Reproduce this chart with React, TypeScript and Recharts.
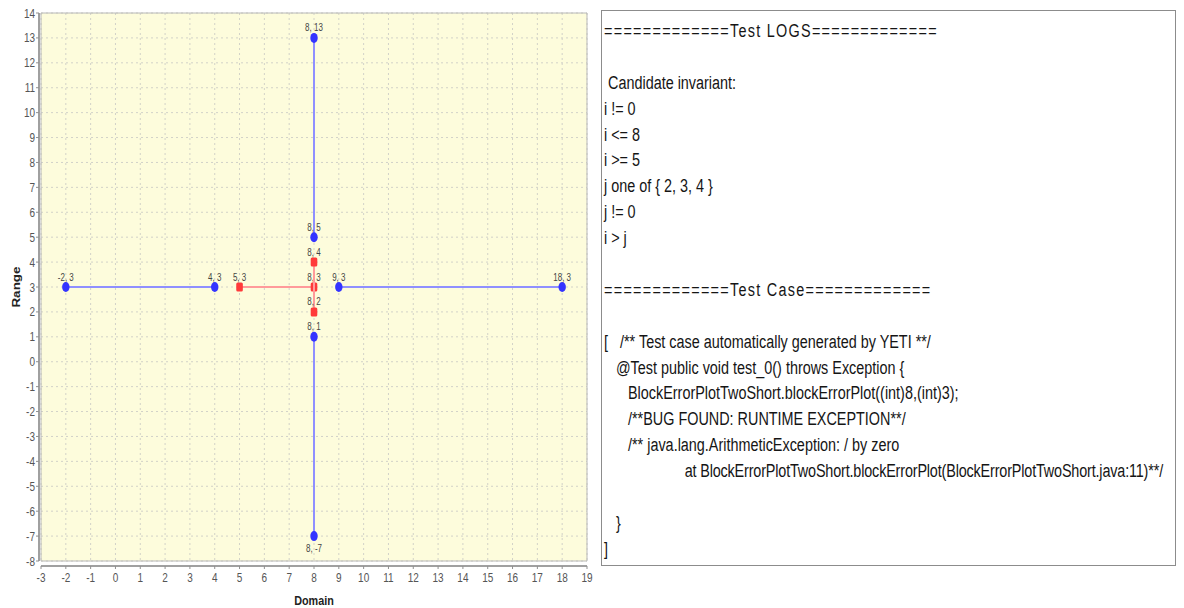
import React from 'react';
import { ScatterChart, Scatter, XAxis, YAxis, CartesianGrid, ReferenceArea, Label } from 'recharts';

const xTicks = [-3, -2, -1, 0, 1, 2, 3, 4, 5, 6, 7, 8, 9, 10, 11, 12, 13, 14, 15, 16, 17, 18, 19];
const yTicks = [-8, -7, -6, -5, -4, -3, -2, -1, 0, 1, 2, 3, 4, 5, 6, 7, 8, 9, 10, 11, 12, 13, 14];

const blueLeft = [{ x: -2, y: 3 }, { x: 4, y: 3 }];
const blueRight = [{ x: 9, y: 3 }, { x: 18, y: 3 }];
const blueTop = [{ x: 8, y: 13 }, { x: 8, y: 5 }];
const blueBottom = [{ x: 8, y: 1 }, { x: 8, y: -7 }];
const redHorizontal = [{ x: 5, y: 3 }, { x: 8, y: 3 }];
const redVertical = [{ x: 8, y: 4 }, { x: 8, y: 2 }];

const logLines = [
  '=============Test LOGS=============',
  '',
  ' Candidate invariant:',
  'i != 0',
  'i <= 8',
  'i >= 5',
  'j one of { 2, 3, 4 }',
  'j != 0',
  'i > j',
  '',
  '=============Test Case=============',
  '',
  '[   /** Test case automatically generated by YETI **/',
  '   @Test public void test_0() throws Exception {',
  '      BlockErrorPlotTwoShort.blockErrorPlot((int)8,(int)3);',
  '      /**BUG FOUND: RUNTIME EXCEPTION**/',
  '      /** java.lang.ArithmeticException: / by zero',
  '                     at BlockErrorPlotTwoShort.blockErrorPlot(BlockErrorPlotTwoShort.java:11)**/',
  '',
  '   }',
  ']',
];

const FONT = "'Liberation Sans', Arial, sans-serif";
const SQ = 0.8;

const PointLabel = ({ cx, cy, below, text }: any) => (
  <text
    transform={`translate(${cx},${cy + (below ? 15.5 : -6.5)}) scale(${SQ},1)`}
    textAnchor="middle"
    fontSize={10}
    fontFamily={FONT}
    fill="#444"
  >
    {text}
  </text>
);

const BluePoint = (props: any) => {
  const { cx, cy, payload } = props;
  if (cx == null || cy == null) return null;
  return (
    <g>
      <ellipse cx={cx} cy={cy} rx={3.7} ry={5} fill="#3434ff" />
      <PointLabel cx={cx} cy={cy} below={payload.y < 0} text={`${payload.x}, ${payload.y}`} />
    </g>
  );
};

const RedPoint = (props: any) => {
  const { cx, cy, payload } = props;
  if (cx == null || cy == null) return null;
  return (
    <g>
      <rect x={cx - 3.3} y={cy - 4.5} width={6.6} height={9} rx={1.5} fill="#ff3a3a" />
      <PointLabel cx={cx} cy={cy} below={payload.y < 0} text={`${payload.x}, ${payload.y}`} />
    </g>
  );
};

const XTick = (props: any) => {
  const { x, y, payload } = props;
  return (
    <text transform={`translate(${x},${y}) scale(${SQ},1)`} textAnchor="middle" dy="0.72em" fontSize={12.5} fontFamily={FONT} fill="#555">
      {payload.value}
    </text>
  );
};

const YTick = (props: any) => {
  const { x, y, payload } = props;
  return (
    <text transform={`translate(${x},${y}) scale(${SQ},1)`} textAnchor="end" dy="0.36em" fontSize={12.5} fontFamily={FONT} fill="#555">
      {payload.value}
    </text>
  );
};

const DomainLabel = (props: any) => {
  const vb = props.viewBox || {};
  const cx = vb.x + vb.width / 2;
  const cy = vb.y + 44;
  return (
    <text transform={`translate(${cx},${cy}) scale(${SQ},1)`} textAnchor="middle" fontSize={13.5} fontWeight="bold" fontFamily={FONT} fill="#222">
      Domain
    </text>
  );
};

const RangeLabel = (props: any) => {
  const vb = props.viewBox || {};
  const cx = vb.x + 20;
  const cy = vb.y + vb.height / 2;
  return (
    <text transform={`translate(${cx},${cy}) rotate(-90) scale(1,${SQ})`} textAnchor="middle" fontSize={13.5} fontWeight="bold" fontFamily={FONT} fill="#222">
      Range
    </text>
  );
};

const blueLine = { stroke: '#8f8fff', strokeWidth: 2 };
const redLine = { stroke: '#ff9a9a', strokeWidth: 2 };

export default function App() {
  return (
    <div style={{ position: 'absolute', left: 0, top: 0, width: 1184, height: 608, background: '#fff' }}>
      <div style={{ position: 'absolute', left: 0, top: 0 }}>
        <ScatterChart width={595} height={608} margin={{ top: 13, right: 8, bottom: 0, left: 0 }}>
          <CartesianGrid stroke="#d2d2c8" strokeDasharray="2 3" fill="#fdfcdc" />
          <ReferenceArea x1={-3} x2={19} y1={-8} y2={14} fill="none" stroke="#b8b8b8" strokeWidth={1} ifOverflow="visible" />
          <XAxis
            type="number"
            dataKey="x"
            domain={[-3, 19]}
            ticks={xTicks}
            interval={0}
            allowDataOverflow
            height={47}
            tickSize={3}
            tickMargin={9}
            axisLine={{ stroke: '#a0a0a0', strokeWidth: 2, transform: 'translate(0,5)' }}
            tickLine={{ stroke: '#909090', transform: 'translate(0,5)' }}
            tick={(p: any) => <XTick {...p} />}
          >
            <Label content={DomainLabel} />
          </XAxis>
          <YAxis
            type="number"
            dataKey="y"
            domain={[-8, 14]}
            ticks={yTicks}
            interval={0}
            allowDataOverflow
            width={41}
            tickSize={3}
            tickMargin={3}
            axisLine={{ stroke: '#a0a0a0', strokeWidth: 2, transform: 'translate(-2,0)' }}
            tickLine={{ stroke: '#909090', transform: 'translate(-2,0)' }}
            tick={(p: any) => <YTick {...p} />}
          >
            <Label content={RangeLabel} />
          </YAxis>
          <Scatter data={blueLeft} line={blueLine} lineType="joint" shape={BluePoint} isAnimationActive={false} />
          <Scatter data={blueRight} line={blueLine} lineType="joint" shape={BluePoint} isAnimationActive={false} />
          <Scatter data={blueTop} line={blueLine} lineType="joint" shape={BluePoint} isAnimationActive={false} />
          <Scatter data={blueBottom} line={blueLine} lineType="joint" shape={BluePoint} isAnimationActive={false} />
          <Scatter data={redHorizontal} line={redLine} lineType="joint" shape={RedPoint} isAnimationActive={false} />
          <Scatter data={redVertical} line={redLine} lineType="joint" shape={RedPoint} isAnimationActive={false} />
        </ScatterChart>
      </div>
      <div
        style={{
          position: 'absolute',
          left: 601,
          top: 10,
          width: 575,
          height: 556,
          boxSizing: 'border-box',
          border: '1px solid #8c8c8c',
          overflow: 'hidden',
          background: '#fff',
        }}
      >
        <div
          style={{
            position: 'absolute',
            left: 2,
            top: 8,
            transform: `scaleX(${SQ})`,
            transformOrigin: '0 0',
            whiteSpace: 'pre',
            fontFamily: FONT,
            fontSize: 18,
            lineHeight: '25.9px',
            color: '#151515',
          }}
        >
          {logLines.map((line, i) => (
            <div
              key={i}
              style={{
                height: '25.9px',
                letterSpacing: line.startsWith('=') ? 1.6 : line.length > 70 ? -0.2 : 0,
              }}
            >
              {line || '\u00a0'}
            </div>
          ))}
        </div>
      </div>
    </div>
  );
}
